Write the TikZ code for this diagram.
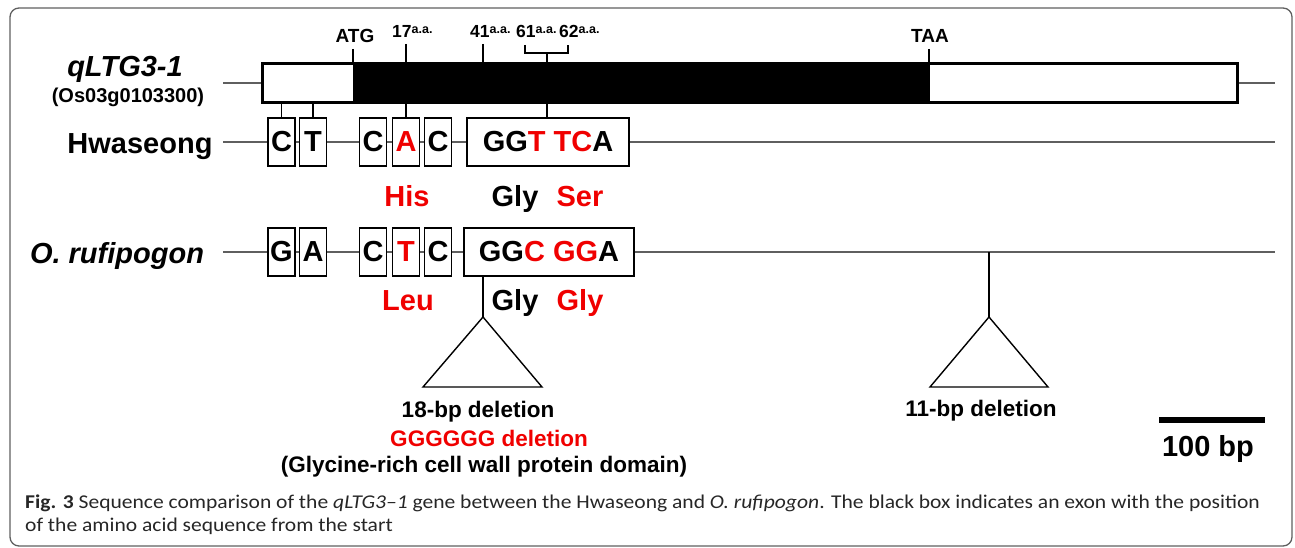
\documentclass[tikz,border=0pt]{standalone}
\usepackage{fontspec}
\usepackage{graphicx}
\setmainfont{Liberation Sans}
\newfontfamily\capfont{Carlito}
\newcommand\fsz[1]{\fontsize{#1}{#1}\selectfont}
\definecolor{myred}{RGB}{240,0,0}
\definecolor{lgray}{RGB}{95,95,95}
\tikzset{
  gline/.style={draw=lgray, line width=1.4},
  tick/.style={draw=black, line width=1.8},
  base/.style={draw=black, line width=1.4, fill=white, minimum height=48, inner sep=0, font=\bfseries\fsz{29}},
  sbox/.style={base, minimum width=27},
  lbl/.style={anchor=base, inner sep=0, font=\bfseries\fsz{29}},
  dlbl/.style={anchor=base, inner sep=0, font=\bfseries\fsz{22.5}},
  toplbl/.style={anchor=base, inner sep=0, font=\bfseries\fsz{19}},
  numlbl/.style={anchor=base west, inner sep=0, font=\bfseries\fsz{17.5}},
  tri/.style={draw=black, line width=1.4},
  captext/.style={anchor=base west, inner sep=0, font=\capfont\fsz{19.5}, text=black!85},
}
\newcommand\aasup{\raisebox{4.5pt}{\fsz{12.5}a.a.}}
\begin{document}
\begin{tikzpicture}[x=1pt,y=-1pt]
\useasboundingbox (0,0) rectangle (1295,548);
\draw[rounded corners=9, draw=lgray, line width=1.3] (10,8) rectangle (1292,546);

% gene model
\coordinate (gl) at (223,83);
\coordinate (gr) at (1275,83);
\draw[gline] (gl) -- (gr);
\node[draw=black, line width=1.8, fill=white, minimum width=974, minimum height=38, inner sep=0] (bar) at (750,83) {};
\node[fill=black, minimum width=577, minimum height=38, inner sep=0] (exon) at (641.5,83) {};
\draw[line width=1.8] (bar.north west) rectangle (bar.south east);

% top labels and ticks
\node[toplbl] (atg) at (355,43) {ATG};
\node[toplbl] (taa) at (930,43) {TAA};
\node[numlbl] (n17) at (392,38) {17\aasup};
\node[numlbl] (n41) at (470,38) {41\aasup};
\node[numlbl] (n61) at (516,38) {61\aasup};
\node[numlbl] (n62) at (559,38) {62\aasup};
\coordinate (tatg) at (353,49);
\coordinate (ttaa) at (929,49);
\coordinate (t17) at (406,44);
\coordinate (t41) at (483,44);
\coordinate (bl) at (525,45);
\coordinate (br) at (568,45);
\coordinate (bc) at (547,53);
\draw[tick] (tatg) -- (tatg |- bar.north);
\draw[tick] (ttaa) -- (ttaa |- bar.north);
\draw[tick] (t17) -- (t17 |- bar.north);
\draw[tick] (t41) -- (t41 |- bar.north);
\draw[tick] (bl) -- (bl |- bc) -- (br |- bc) -- (br);
\draw[tick] (bc) -- (bc |- bar.north);

% left labels
\node[lbl, font=\bfseries\itshape\fsz{29}] (qltg) at (125,77) {qLTG3-1};
\node[anchor=base, inner sep=0, font=\bfseries\fsz{20}] (os) at (128,103) {(Os03g0103300)};
\node[lbl] (hw) at (140,154) {Hwaseong};
\node[lbl, font=\bfseries\itshape\fsz{29}] (ru) at (117,263) {O. rufipogon};

% Hwaseong row
\coordinate (hl) at (223,142);
\coordinate (hr) at (1275,142);
\draw[gline] (hl) -- (hr);
\node[sbox] (h1) at (281.5,142) {C};
\node[sbox] (h2) at (313,142) {T};
\node[sbox] (h3) at (373,142) {C};
\node[sbox] (h4) at (406,142) {\textcolor{myred}{A}};
\node[sbox] (h5) at (438,142) {C};
\node[base, minimum width=162] (h6) at (548,142) {GG\textcolor{myred}{T TC}A};
\draw[tick] (h1.north) -- (h1.north |- bar.south);
\draw[tick] (h2.north) -- (h2.north |- bar.south);
\draw[tick] (h4.north) -- (h4.north |- bar.south);
\coordinate (h6t) at (547,118);
\draw[tick] (h6t) -- (h6t |- bar.south);

\node[lbl, text=myred] (his) at (407,207) {His};
\node[lbl] (gly1) at (515,207) {Gly};
\node[lbl, text=myred] (ser) at (580,207) {Ser};

% O. rufipogon row
\coordinate (rl) at (223,252);
\coordinate (rr) at (1275,252);
\draw[gline] (rl) -- (rr);
\node[sbox] (r1) at (281.5,252) {G};
\node[sbox] (r2) at (313,252) {A};
\node[sbox] (r3) at (373,252) {C};
\node[sbox] (r4) at (406,252) {\textcolor{myred}{T}};
\node[sbox] (r5) at (438,252) {C};
\node[base, minimum width=170] (r6) at (549,252) {GG\textcolor{myred}{C GG}A};

\node[lbl, text=myred] (leu) at (408,310) {Leu};
\node[lbl] (gly2) at (515,310) {Gly};
\node[lbl, text=myred] (gly3) at (580,310) {Gly};

% deletions
\coordinate (d1) at (483,317);
\coordinate (d1top) at (483,276);
\draw[tick] (d1top) -- (d1);
\draw[tri] (d1) -- (423,387) -- (542,387) -- cycle;
\coordinate (d2) at (989,317);
\draw[tick] (d2 |- rr) -- (d2);
\draw[tri] (d2) -- (930,387) -- (1048,387) -- cycle;

\node[dlbl] (del18) at (478,417) {18-bp deletion};
\node[dlbl, text=myred] (delg) at (489,446) {GGGGGG deletion};
\node[dlbl] (dom) at (484,472) {(Glycine-rich cell wall protein domain)};
\node[dlbl] (del11) at (981,416) {11-bp deletion};

% scale bar
\coordinate (sb1) at (1159,420);
\coordinate (sb2) at (1265,420);
\draw[line width=6] (sb1) -- (sb2);
\node[lbl] (sbl) at (1208,456) {100 bp};

% caption
\node[captext] (cap1) at (25,508)
  {\scalebox{1.105}[1]{\textbf{Fig. 3} Sequence comparison of the \textit{qLTG3–1} gene between the Hwaseong and \textit{O. rufipogon}. The black box indicates an exon with the position}};
\node[captext] (cap2) at (25,531)
  {\scalebox{1.105}[1]{of the amino acid sequence from the start}};
\end{tikzpicture}
\end{document}
